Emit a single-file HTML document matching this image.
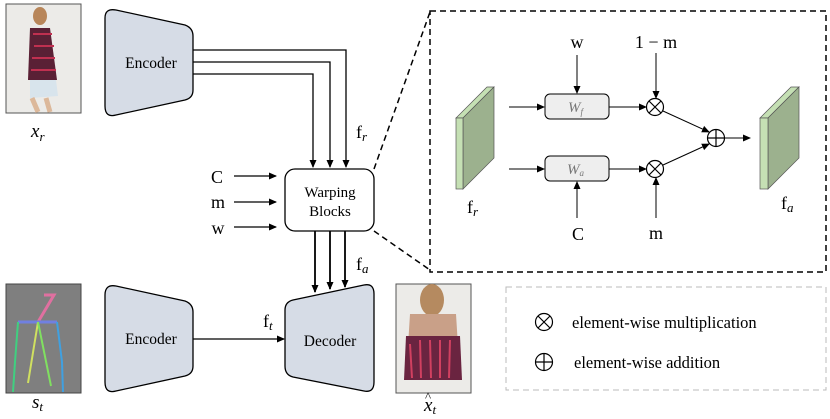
<!DOCTYPE html>
<html><head><meta charset="utf-8"><style>body{margin:0;background:#fff}svg{display:block}text{font-family:"Liberation Serif",serif;fill:#000}</style></head><body>
<svg width="830" height="419" viewBox="0 0 830 419" xmlns="http://www.w3.org/2000/svg">
<defs><marker id="a" markerWidth="8" markerHeight="8" refX="7" refY="4" orient="auto" markerUnits="userSpaceOnUse"><path d="M0,0.5 L8,4 L0,7.5 z" fill="#000"/></marker></defs>
<!-- x_r image -->
<rect x="6" y="4" width="75" height="109" fill="#ecebe8" stroke="#555" stroke-width="1"/>
<ellipse cx="40" cy="16" rx="7" ry="9" fill="#b8865a"/>
<path d="M30,28 L50,28 L57,80 L28,80 z" fill="#5a2035"/>
<path d="M33,34 L52,34 M34,46 L54,46 M32,58 L55,58 M31,70 L56,70" stroke="#c03050" stroke-width="2"/>
<path d="M30,80 L56,80 L58,96 L30,98 z" fill="#d8e4ec"/>
<path d="M32,98 L38,112 M46,98 L50,112" stroke="#dcb89a" stroke-width="5"/>
<text x="31" y="137" font-size="19" font-style="italic">x<tspan font-size="13" dy="4">r</tspan></text>
<!-- Encoder 1 -->
<path d="M105,18 Q105,8 116,10 L185,25 Q193,28 193,36 L193,90 Q193,98 185,100 L116,115 Q105,118 105,106 z" fill="#d6dce6" stroke="#000" stroke-width="1.3"/>
<text x="151" y="68" font-size="15.5" text-anchor="middle">Encoder</text>
<path d="M193,50 H346 V167" fill="none" stroke="#000" stroke-width="1.3" marker-end="url(#a)"/>
<path d="M193,62 H330 V167" fill="none" stroke="#000" stroke-width="1.3" marker-end="url(#a)"/>
<path d="M193,74 H313 V167" fill="none" stroke="#000" stroke-width="1.3" marker-end="url(#a)"/>
<text x="356" y="138" font-size="18">f<tspan font-size="13" font-style="italic" dy="3">r</tspan></text>
<!-- warping -->
<rect x="285" y="169" width="89" height="62" rx="10" fill="#fff" stroke="#000" stroke-width="1.3"/>
<text x="330" y="197" font-size="15" text-anchor="middle">Warping</text>
<text x="330" y="216" font-size="15" text-anchor="middle">Blocks</text>
<text x="217" y="183" font-size="18" text-anchor="middle">C</text>
<text x="218" y="208" font-size="18" text-anchor="middle">m</text>
<text x="218" y="234" font-size="18" text-anchor="middle">w</text>
<path d="M234,176 H276" stroke="#000" stroke-width="1.3" marker-end="url(#a)"/>
<path d="M234,202 H276" stroke="#000" stroke-width="1.3" marker-end="url(#a)"/>
<path d="M234,227 H276" stroke="#000" stroke-width="1.3" marker-end="url(#a)"/>
<path d="M374,169 L430,12 M374,231 L430,270" stroke="#000" stroke-width="1.5" stroke-dasharray="6,4"/>
<path d="M315,231 V292" stroke="#000" stroke-width="1.8" marker-end="url(#a)"/>
<path d="M330,231 V289" stroke="#000" stroke-width="1.8" marker-end="url(#a)"/>
<path d="M345,231 V287" stroke="#000" stroke-width="1.8" marker-end="url(#a)"/>
<text x="356" y="270" font-size="18">f<tspan font-size="13" font-style="italic" dy="3">a</tspan></text>
<!-- decoder -->
<path d="M285,310 Q285,302 293,300 L364,285 Q374,283 374,294 L374,382 Q374,393 364,391 L293,377 Q285,375 285,366 z" fill="#d6dce6" stroke="#000" stroke-width="1.3"/>
<text x="330" y="346" font-size="15.5" text-anchor="middle">Decoder</text>
<!-- s_t -->
<rect x="6" y="284" width="75" height="109" fill="#7f7f7f" stroke="#444" stroke-width="1"/>
<path d="M44,295 L54,295 L38,322" stroke="#e070a0" stroke-width="3" fill="none"/>
<path d="M18,322 L57,322" stroke="#7080e0" stroke-width="3"/>
<path d="M18,322 L15,362 L13,392" stroke="#40d080" stroke-width="2" fill="none"/>
<path d="M57,322 L62,362 L63,392" stroke="#40a0e0" stroke-width="2" fill="none"/>
<path d="M38,322 L28,383" stroke="#d0e060" stroke-width="2"/>
<path d="M38,322 L51,386" stroke="#80e060" stroke-width="2"/>
<text x="32" y="408" font-size="19" font-style="italic">s<tspan font-size="13" dy="3">t</tspan></text>
<!-- Encoder 2 -->
<path d="M105,295 Q105,284 116,286 L185,301 Q193,304 193,312 L193,366 Q193,374 185,376 L116,391 Q105,394 105,382 z" fill="#d6dce6" stroke="#000" stroke-width="1.3"/>
<text x="151" y="344" font-size="15.5" text-anchor="middle">Encoder</text>
<path d="M193,339 H284" stroke="#000" stroke-width="1.3" marker-end="url(#a)"/>
<text x="263" y="327" font-size="18">f<tspan font-size="13" font-style="italic" dy="3">t</tspan></text>
<!-- x_hat image -->
<rect x="396" y="284" width="75" height="109" fill="#ecebe8" stroke="#555" stroke-width="1"/>
<ellipse cx="432" cy="300" rx="12" ry="16" fill="#b58a60"/>
<path d="M410,314 L456,314 L460,378 L406,378 z" fill="#c9a088"/>
<path d="M406,336 L460,336 L462,380 L404,380 z" fill="#6a2440"/>
<path d="M410,344 L412,378 M420,340 L421,378 M430,340 L431,378 M440,340 L440,378 M450,340 L449,378" stroke="#d04060" stroke-width="2"/>
<text x="424" y="411" font-size="19" font-style="italic">x<tspan font-size="13" dy="3">t</tspan></text>
<text x="425" y="401" font-size="13">^</text>
<!-- dashed box -->
<rect x="430" y="11" width="396" height="261" fill="none" stroke="#000" stroke-width="1.5" stroke-dasharray="6,4"/>
<polygon points="456,118 463,118 494,87 487,87" fill="#c5e0b4" stroke="#555" stroke-width="0.7"/>
<polygon points="463,118 494,87 494,158 463,189" fill="#9cb18e" stroke="#555" stroke-width="0.7"/>
<rect x="456" y="118" width="7" height="71" fill="#c5e0b4" stroke="#555" stroke-width="0.7"/>
<text x="467" y="213" font-size="18">f<tspan font-size="13" font-style="italic" dy="3">r</tspan></text>
<path d="M509,107 H544" stroke="#000" stroke-width="1" marker-end="url(#a)"/>
<path d="M509,169 H544" stroke="#000" stroke-width="1" marker-end="url(#a)"/>
<rect x="545" y="94" width="64" height="25" rx="5" fill="#eee" stroke="#000" stroke-width="1"/>
<rect x="545" y="156" width="64" height="25" rx="5" fill="#eee" stroke="#000" stroke-width="1"/>
<text x="568" y="112" font-size="15" font-style="italic" style="fill:#777">W<tspan font-size="9" dy="3">f</tspan></text>
<text x="567" y="174" font-size="15" font-style="italic" style="fill:#777">W<tspan font-size="9" dy="2">a</tspan></text>
<text x="577" y="48" font-size="18" text-anchor="middle">w</text>
<path d="M577,55 V93" stroke="#000" stroke-width="1" marker-end="url(#a)"/>
<text x="578" y="240" font-size="18" text-anchor="middle">C</text>
<path d="M577,218 V182" stroke="#000" stroke-width="1" marker-end="url(#a)"/>
<path d="M609,107 H646" stroke="#000" stroke-width="1" marker-end="url(#a)"/>
<path d="M609,169 H646" stroke="#000" stroke-width="1" marker-end="url(#a)"/>
<g stroke="#000" stroke-width="1.2" fill="#fff">
<circle cx="655" cy="107" r="8.5"/><path d="M649,101 L661,113 M661,101 L649,113"/>
<circle cx="655" cy="169" r="8.5"/><path d="M649,163 L661,175 M661,163 L649,175"/>
<circle cx="716" cy="138" r="8.5"/><path d="M707.5,138 H724.5 M716,129.5 V146.5"/>
</g>
<text x="656" y="48" font-size="18" text-anchor="middle">1 − m</text>
<path d="M656,53 V98" stroke="#000" stroke-width="1" marker-end="url(#a)"/>
<text x="656" y="239" font-size="18" text-anchor="middle">m</text>
<path d="M656,218 V178" stroke="#000" stroke-width="1" marker-end="url(#a)"/>
<path d="M663,111 L709,132" stroke="#000" stroke-width="1" marker-end="url(#a)"/>
<path d="M663,165 L709,144" stroke="#000" stroke-width="1" marker-end="url(#a)"/>
<path d="M725,138 H750" stroke="#000" stroke-width="1" marker-end="url(#a)"/>
<polygon points="760,118 768,118 799,87 791,87" fill="#c5e0b4" stroke="#555" stroke-width="0.7"/>
<polygon points="768,118 799,87 799,158 768,189" fill="#9cb18e" stroke="#555" stroke-width="0.7"/>
<rect x="760" y="118" width="8" height="71" fill="#c5e0b4" stroke="#555" stroke-width="0.7"/>
<text x="781" y="209" font-size="18">f<tspan font-size="13" font-style="italic" dy="3">a</tspan></text>
<!-- legend -->
<rect x="506" y="287" width="320" height="103" fill="none" stroke="#bbb" stroke-width="1" stroke-dasharray="6,4"/>
<g stroke="#000" stroke-width="1.2" fill="#fff">
<circle cx="544" cy="322" r="8.5"/><path d="M538,316 L550,328 M550,316 L538,328"/>
<circle cx="544" cy="362" r="8.5"/><path d="M535.5,362 H552.5 M544,353.5 V370.5"/>
</g>
<text x="572" y="328" font-size="16.5">element-wise multiplication</text>
<text x="574" y="368" font-size="16.5">element-wise addition</text>
</svg>
</body></html>
